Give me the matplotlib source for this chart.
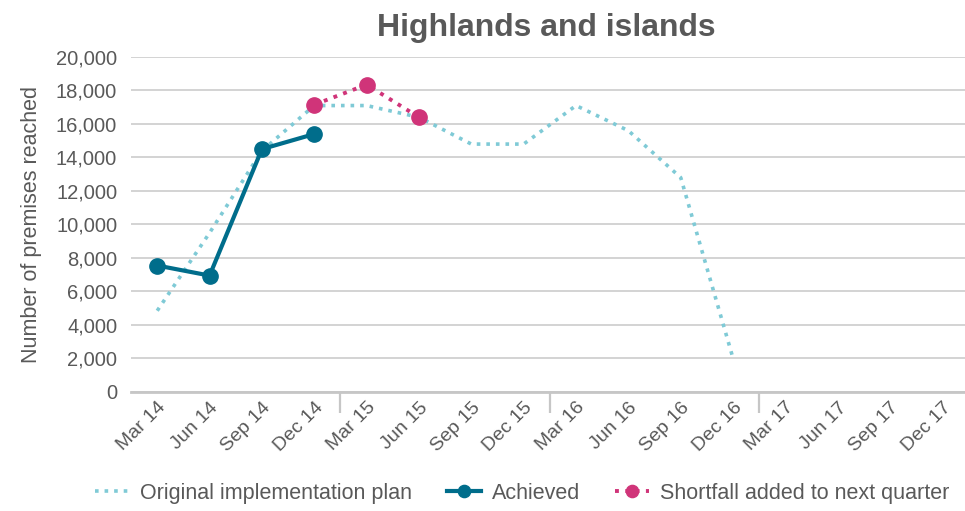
import matplotlib
matplotlib.use('Agg')
from matplotlib import pyplot as plt
from matplotlib.ticker import FuncFormatter
import matplotlib.transforms as mtransforms

plt.rcParams['font.family'] = ['Liberation Sans', 'DejaVu Sans']

# quarters
quarters = ['Mar 14', 'Jun 14', 'Sep 14', 'Dec 14', 'Mar 15', 'Jun 15', 'Sep 15', 'Dec 15',
            'Mar 16', 'Jun 16', 'Sep 16', 'Dec 16', 'Mar 17', 'Jun 17', 'Sep 17', 'Dec 17']

# Original implementation plan (Mar 14 - Dec 16)
plan_y = [4850, 9500, 14400, 17100, 17100, 16400, 14800, 14800, 17100, 15600, 12800, 2000]

# Achieved (Mar 14 - Dec 14)
achieved_y = [7550, 6950, 14500, 15400]

# Shortfall added to next quarter (Dec 14 - Jun 15)
shortfall_y = [17150, 18350, 16400]

text_col = '#595959'
grid_col = '#d0d0d0'

fig = plt.figure(figsize=(9.65, 5.11), dpi=100)
ax = fig.add_axes([0.1358, 0.2329, 0.868, 0.6556])

x = list(range(len(quarters)))

ax.plot(x[:len(plan_y)], plan_y, color='#7fcad6', linestyle=':', linewidth=2.6,
        label='Original implementation plan', zorder=3)
ax.plot(x[:len(achieved_y)], achieved_y, color='#006d8b', linewidth=3, marker='o',
        markersize=11, label='Achieved', zorder=4, clip_on=False)
ax.plot(x[3:3 + len(shortfall_y)], shortfall_y, color='#d03479', linestyle=':', linewidth=2.8,
        marker='o', markersize=11, label='Shortfall added to next quarter', zorder=5, clip_on=False)

ax.set_xlim(-0.5, len(quarters) - 0.5)
ax.set_ylim(0, 20000)
ax.set_yticks(range(0, 20001, 2000))
ax.yaxis.set_major_formatter(FuncFormatter(lambda v, p: f'{int(v):,}'))
ax.yaxis.grid(True, color=grid_col, linewidth=1.3)
ax.set_axisbelow(True)

for s in ['top', 'right', 'left']:
    ax.spines[s].set_visible(False)
ax.spines['bottom'].set_color('#c6c6c6')
ax.spines['bottom'].set_linewidth(2)

ax.set_xticks(x)
ax.set_xticklabels(quarters, rotation=45, ha='right', va='top', rotation_mode='anchor')
offset = mtransforms.ScaledTranslation(9 / 72, 0, fig.dpi_scale_trans)
for lbl in ax.get_xticklabels():
    lbl.set_transform(lbl.get_transform() + offset)
ax.set_xticks([3.5, 7.5, 11.5], minor=True)
ax.tick_params(axis='x', which='major', length=0, pad=5, labelsize=14, labelcolor=text_col)
ax.tick_params(axis='x', which='minor', length=15, width=1.6, color='#c6c6c6')
ax.tick_params(axis='y', length=0, pad=10, labelsize=14.5, labelcolor=text_col)

ax.set_ylabel('Number of premises reached', fontsize=15.5, color=text_col, labelpad=10)
fig.suptitle('Highlands and islands', fontsize=23, fontweight='bold', color='#595959',
             x=0.566, y=0.975)

fig.legend(loc='center', bbox_to_anchor=(0.541, 0.035), ncol=3, frameon=False,
           fontsize=15.5, labelcolor=text_col, handlelength=1.6, columnspacing=1.6,
           handletextpad=0.5, markerscale=0.8)

fig.savefig('out.png', dpi=100)
